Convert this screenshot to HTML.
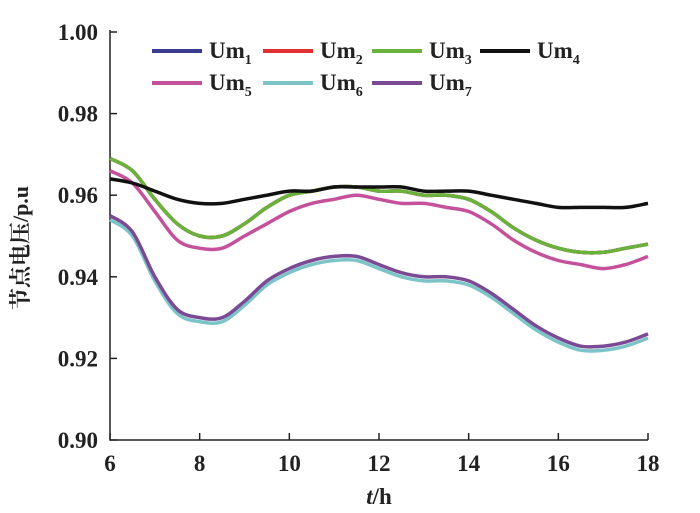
<!DOCTYPE html>
<html><head><meta charset="utf-8"><style>
body{margin:0;background:#fff;}
svg{display:block;font-family:"Liberation Serif","Noto Serif CJK SC",serif;}
</style></head><body>
<svg id="chart" width="700" height="513"></svg>
<script>
const hours=[6,6.5,7,7.5,8,8.5,9,9.5,10,10.5,11,11.5,12,12.5,13,13.5,14,14.5,15,15.5,16,16.5,17,17.5,18];
const um1=[0.969,0.966,0.959,0.953,0.950,0.950,0.953,0.957,0.960,0.961,0.962,0.962,0.961,0.961,0.960,0.960,0.959,0.956,0.952,0.949,0.947,0.946,0.946,0.947,0.948];
const um2=[0.969,0.966,0.959,0.953,0.950,0.950,0.953,0.957,0.960,0.961,0.962,0.962,0.961,0.961,0.960,0.960,0.959,0.956,0.952,0.949,0.947,0.946,0.946,0.947,0.948];
const um3=[0.969,0.966,0.959,0.953,0.950,0.950,0.953,0.957,0.960,0.961,0.962,0.962,0.961,0.961,0.960,0.960,0.959,0.956,0.952,0.949,0.947,0.946,0.946,0.947,0.948];
const um4=[0.964,0.963,0.961,0.959,0.958,0.958,0.959,0.960,0.961,0.961,0.962,0.962,0.962,0.962,0.961,0.961,0.961,0.960,0.959,0.958,0.957,0.957,0.957,0.957,0.958];
const um5=[0.966,0.963,0.956,0.949,0.947,0.947,0.950,0.953,0.956,0.958,0.959,0.960,0.959,0.958,0.958,0.957,0.956,0.953,0.949,0.946,0.944,0.943,0.942,0.943,0.945];
const um6=[0.954,0.950,0.939,0.931,0.929,0.929,0.933,0.938,0.941,0.943,0.944,0.944,0.942,0.940,0.939,0.939,0.938,0.935,0.931,0.927,0.924,0.922,0.922,0.923,0.925];
const um7=[0.955,0.951,0.940,0.932,0.930,0.930,0.934,0.939,0.942,0.944,0.945,0.945,0.943,0.941,0.940,0.940,0.939,0.936,0.932,0.928,0.925,0.923,0.923,0.924,0.926];
const xTicks=[6,8,10,12,14,16,18];
const yTicks=[0.90,0.92,0.94,0.96,0.98,1.00];
const seriesNames=["Um1","Um2","Um3","Um4","Um5","Um6","Um7"];
const seriesColors=["#3b3b8f","#e03030","#6ab23c","#111111","#c4529a","#7cc4c8","#7b4a94"];

const svg=document.getElementById('chart');
const NS='http://www.w3.org/2000/svg';
const L=110,R=648,T=32,B=440;
const xs=h=>L+(h-6)/12*(R-L);
const ys=v=>B-(v-0.90)/0.10*(B-T);
function mk(tag,attrs,parent){const e=document.createElementNS(NS,tag);for(const k in attrs)e.setAttribute(k,attrs[k]);(parent||svg).appendChild(e);return e;}
function smooth(pts){
  let d='M'+pts[0][0].toFixed(1)+','+pts[0][1].toFixed(1);
  for(let i=0;i<pts.length-1;i++){
    const p0=pts[i-1]||pts[i],p1=pts[i],p2=pts[i+1],p3=pts[i+2]||p2;
    const c1=[p1[0]+(p2[0]-p0[0])/6,p1[1]+(p2[1]-p0[1])/6];
    const c2=[p2[0]-(p3[0]-p1[0])/6,p2[1]-(p3[1]-p1[1])/6];
    d+=`C${c1[0].toFixed(1)},${c1[1].toFixed(1)} ${c2[0].toFixed(1)},${c2[1].toFixed(1)} ${p2[0].toFixed(1)},${p2[1].toFixed(1)}`;
  }
  return d;
}

let ax=mk('path',{d:`M${L},${T-2}V${B}H${R}`,stroke:'#222',fill:'none','stroke-width':1.5});


yTicks.forEach(v=>{
  const y=ys(v);
  const t=mk('line',{x1:L,x2:L+7,y1:y,y2:y,stroke:'#222','stroke-width':1.5});
  
  
  const lb=mk('text',{x:L-12,y:y+8,'text-anchor':'end','font-size':23,'font-weight':'bold',fill:'#222'});
  lb.textContent=v.toFixed(2);
  
  
});
xTicks.forEach(h=>{
  const x=xs(h);
  const t=mk('line',{x1:x,x2:x,y1:B,y2:B-7,stroke:'#222','stroke-width':1.5});
  
  
  const lb=mk('text',{x:x,y:B+31,'text-anchor':'middle','font-size':23,'font-weight':'bold',fill:'#222'});
  lb.textContent=h;
  
  
});
const xt=mk('text',{x:(L+R)/2,y:504,'text-anchor':'middle','font-size':23,'font-weight':'bold',fill:'#222'});
xt.innerHTML='<tspan font-style="italic">t</tspan>/h';


const yt=mk('text',{x:0,y:0,'text-anchor':'middle','font-size':22,'font-weight':'bold',fill:'#222',transform:`translate(28,${(T+B)/2+12}) rotate(-90)`});
yt.textContent='节点电压/p.u';



const data=[um1,um2,um3,um4,um5,um6,um7];
const order=[5,6,4,0,1,2,3];
order.forEach(i=>{
  const pts=data[i].map((v,j)=>[xs(hours[j]),ys(v)]);
  const p=mk('path',{d:smooth(pts),stroke:seriesColors[i],fill:'none','stroke-width':3.5,'stroke-linejoin':'round'});
  
  
});

const legPos=[[152,51],[263,51],[372,51],[480,51],[152,83],[263,83],[372,83]];
seriesNames.forEach((n,i)=>{
  const [x,y]=legPos[i];
  const g=mk('g',{});
  
  
  mk('line',{x1:x,x2:x+50,y1:y,y2:y,stroke:seriesColors[i],'stroke-width':4},g);
  const t=mk('text',{x:x+57,y:y+7,'font-size':23,'font-weight':'bold',fill:'#222'},g);
  t.innerHTML='Um<tspan font-size="14" dy="6">'+n.slice(2)+'</tspan>';
});
</script>
</body></html>
